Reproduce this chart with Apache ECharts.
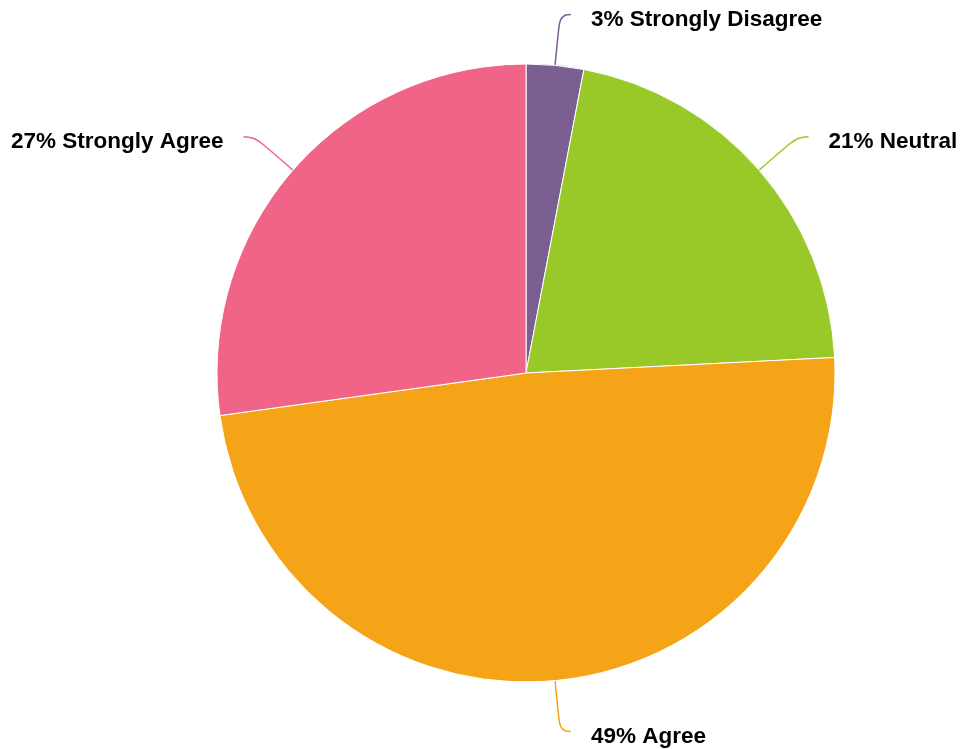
<!DOCTYPE html>
<html>
<head>
<meta charset="utf-8">
<script src="https://cdn.jsdelivr.net/npm/echarts@6/dist/echarts.min.js"></script>
<style>
html,body{margin:0;padding:0;background:#fff;}
#chart{width:962px;height:749px;}
</style>
</head>
<body>
<div id="chart"></div>
<script>
const categories = ['Strongly Disagree', 'Neutral', 'Agree', 'Strongly Agree'];
const values = [3.0, 21.2, 48.6, 27.2];
const labelPercents = [3, 21, 49, 27];
const colors = ['#7c5f92', '#98c928', '#f5a418', '#f06488'];

const chart = echarts.init(document.getElementById('chart'), null, {renderer: 'canvas'});
chart.setOption({
  animation: false,
  series: [{
    type: 'pie',
    center: [526, 373],
    radius: [0, 309],
    startAngle: 90,
    clockwise: true,
    data: categories.map((c, i) => ({name: c, value: values[i], itemStyle: {color: colors[i]}})),
    itemStyle: {borderColor: '#ffffff', borderWidth: 1},
    label: {
      formatter: p => '{t|' + labelPercents[p.dataIndex] + '% ' + p.name + '}',
      rich: {
        t: {
          fontFamily: 'Liberation Sans, Arial, sans-serif',
          fontWeight: 'bold',
          fontSize: 22.5,
          color: '#000',
          padding: [10, 0, 0, 0]
        }
      },
      overflow: 'none',
      distanceToLabelLine: 20
    },
    labelLine: {
      length: 51,
      length2: 11,
      smooth: 0.5,
      lineStyle: {width: 1.5}
    },
    emphasis: {disabled: true}
  }]
});
</script>
</body>
</html>
